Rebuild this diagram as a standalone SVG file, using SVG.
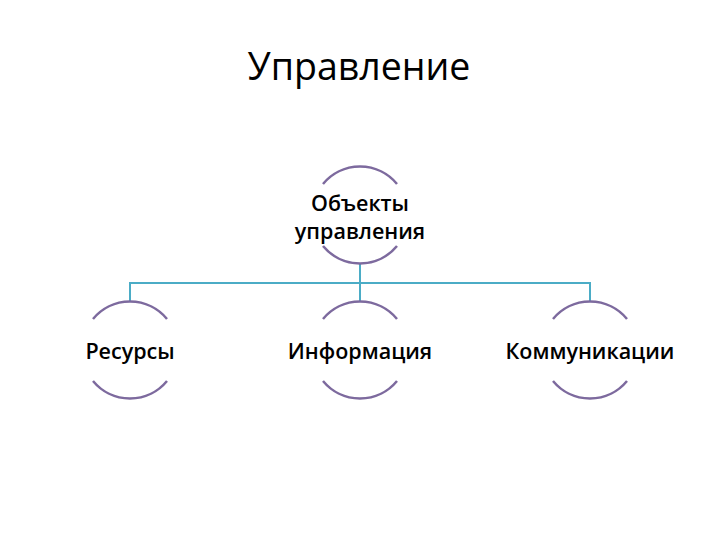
<svg xmlns="http://www.w3.org/2000/svg" width="720" height="540" viewBox="0 0 720 540">
<style>
.arc{fill:none;stroke:#7d6a9e;stroke-width:2.5}
.con{fill:none;stroke:#4bacc6;stroke-width:2}
.lbl{font-family:"Open Sans","Liberation Sans",sans-serif;font-size:21.5px;font-weight:600;fill:#000;text-anchor:middle}
.title{font-family:"Open Sans","Liberation Sans",sans-serif;font-size:37.5px;fill:#000;text-anchor:middle}
</style>
<rect width="720" height="540" fill="#fff"/>
<text class="title" x="359" y="80">Управление</text>
<g id="connectors">
<path class="con" d="M360,263 V283 M130,302 V283 H590 V302 M360,283 V302"/>
</g>
<g id="n-root">
<path class="arc" d="M323,184 A48,48 0 0 1 397,184"/>
<path class="arc" d="M323,246 A48,48 0 0 0 397,246"/>
<text class="lbl" x="360" y="211">Объекты</text>
<text class="lbl" x="360" y="239">управления</text>
</g>
<g id="n-res">
<path class="arc" d="M93,319 A48,48 0 0 1 167,319"/>
<path class="arc" d="M93,381 A48,48 0 0 0 167,381"/>
<text class="lbl" x="130" y="359">Ресурсы</text>
</g>
<g id="n-info">
<path class="arc" d="M323,319 A48,48 0 0 1 397,319"/>
<path class="arc" d="M323,381 A48,48 0 0 0 397,381"/>
<text class="lbl" x="360" y="359">Информация</text>
</g>
<g id="n-comm">
<path class="arc" d="M553,319 A48,48 0 0 1 627,319"/>
<path class="arc" d="M553,381 A48,48 0 0 0 627,381"/>
<text class="lbl" x="590" y="359">Коммуникации</text>
</g>
</svg>
